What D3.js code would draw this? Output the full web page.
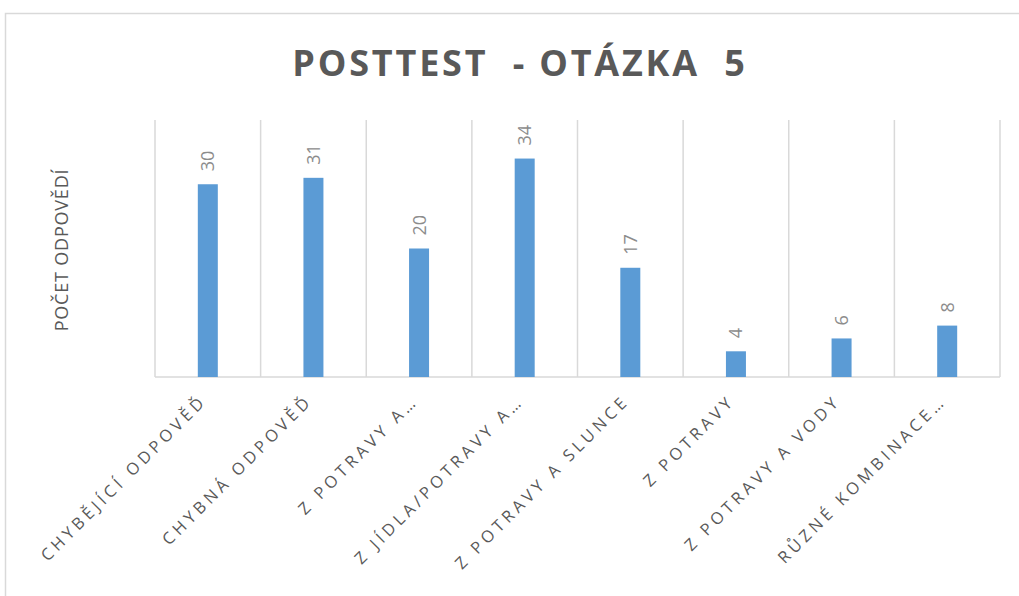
<!DOCTYPE html>
<html lang="cs">
<head>
    <meta charset="UTF-8">
    <title>Posttest - otázka 5</title>
    <script src="https://d3js.org/d3.v7.min.js"></script>
    <style>
        body { margin: 0; background: #fff; }
        text { font-family: "Open Sans", "Noto Sans", sans-serif; white-space: pre; }
    </style>
</head>
<body>
    <svg id="chart"></svg>
    <script>
        const categories = ["CHYBĚJÍCÍ ODPOVĚĎ", "CHYBNÁ ODPOVĚĎ", "Z POTRAVY A…", "Z JÍDLA/POTRAVY A…",
            "Z POTRAVY A SLUNCE", "Z POTRAVY", "Z POTRAVY A VODY", "RŮZNÉ KOMBINACE…"];
        const counts = [30, 31, 20, 34, 17, 4, 6, 8];

        const width = 1019, height = 596;
        const margin = {top: 120, right: 19, bottom: 219, left: 155};

        const svg = d3.select("#chart").attr("width", width).attr("height", height);

        // outer chart frame
        svg.append("rect")
            .attr("x", 5.5).attr("y", 13.5)
            .attr("width", width + 10).attr("height", height)
            .attr("fill", "#fff").attr("stroke", "#d9d9d9").attr("stroke-width", 1.5);

        const x = d3.scaleBand()
            .domain(categories)
            .range([margin.left, width - margin.right]);

        const y = d3.scaleLinear()
            .domain([0, 40])
            .range([height - margin.bottom, margin.top]);

        // vertical gridlines at category boundaries
        const bounds = categories.map(c => x(c)).concat([x.range()[1]]);
        svg.append("g").selectAll("line")
            .data(bounds)
            .join("line")
            .attr("x1", d => d).attr("x2", d => d)
            .attr("y1", y(40)).attr("y2", y(0))
            .attr("stroke", "#d9d9d9").attr("stroke-width", 1.5);

        // baseline
        svg.append("line")
            .attr("x1", x.range()[0]).attr("x2", x.range()[1])
            .attr("y1", y(0)).attr("y2", y(0))
            .attr("stroke", "#d9d9d9").attr("stroke-width", 1.5);

        const barW = 20;
        svg.append("g").selectAll("rect")
            .data(counts)
            .join("rect")
            .attr("x", (d, i) => x(categories[i]) + x.bandwidth() / 2 - barW / 2)
            .attr("y", d => y(d))
            .attr("width", barW)
            .attr("height", d => y(0) - y(d))
            .attr("fill", "#5b9bd5");

        // value labels, rotated
        svg.append("g").selectAll("text")
            .data(counts)
            .join("text")
            .attr("transform", (d, i) => `translate(${x(categories[i]) + x.bandwidth() / 2 + 6.5},${y(d) - 13}) rotate(-90)`)
            .attr("text-anchor", "start")
            .attr("font-size", 18)
            .attr("fill", "#8c8c8c")
            .text(d => d);

        // category labels
        svg.append("g").selectAll("text")
            .data(categories)
            .join("text")
            .attr("transform", d => `translate(${x(d) + x.bandwidth() / 2},${y(0) + 25}) rotate(-45)`)
            .attr("text-anchor", "end")
            .attr("font-size", 16.5)
            .attr("letter-spacing", 4)
            .attr("fill", "#595959")
            .text(d => d);

        // y axis title
        svg.append("text")
            .attr("transform", `translate(68,250) rotate(-90)`)
            .attr("text-anchor", "middle")
            .attr("font-size", 18)
            .attr("letter-spacing", 0.8)
            .attr("fill", "#595959")
            .text("POČET ODPOVĚDÍ");

        // chart title
        svg.append("text")
            .attr("x", 520).attr("y", 76)
            .attr("text-anchor", "middle")
            .attr("font-size", 36)
            .attr("font-weight", "bold")
            .attr("letter-spacing", 2.8)
            .attr("fill", "#595959")
            .text("POSTTEST  - OTÁZKA  5");
    </script>
</body>
</html>
